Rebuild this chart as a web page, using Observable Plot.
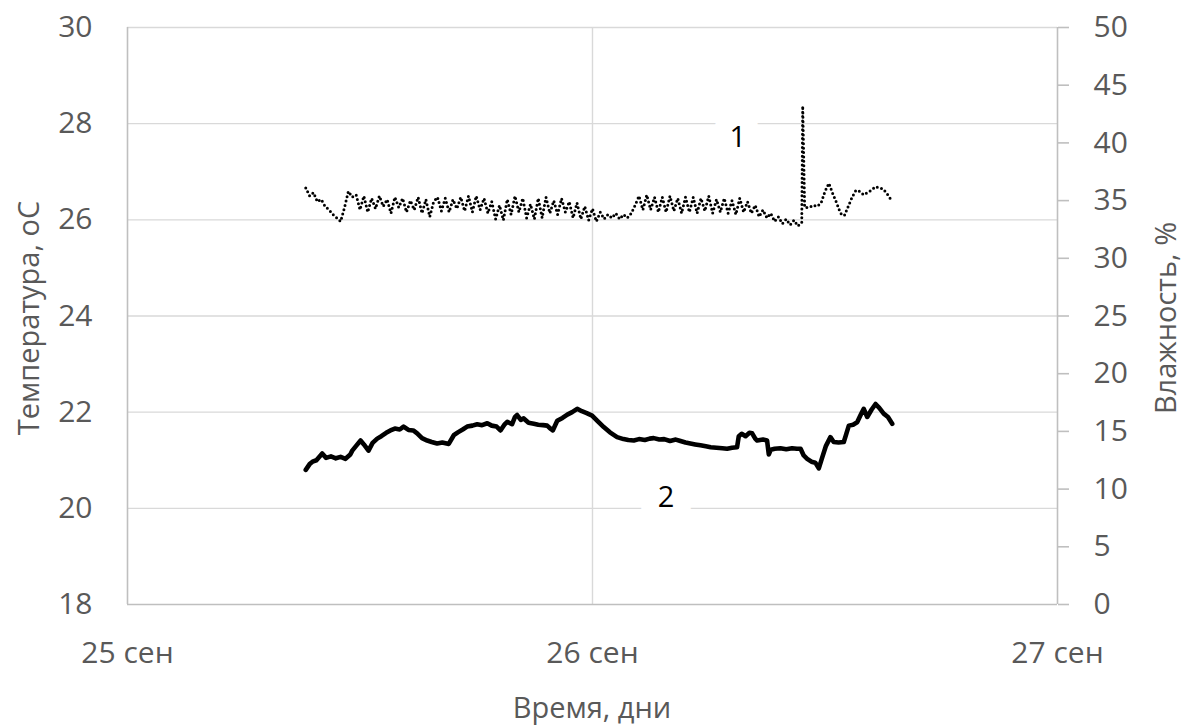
<!DOCTYPE html>
<html>
<head>
<meta charset="utf-8">
<script src="https://cdn.jsdelivr.net/npm/d3@7"></script>
<script src="https://cdn.jsdelivr.net/npm/@observablehq/plot@0.6"></script>
<style>
  html, body { margin: 0; padding: 0; background: #fff; }
  #chart { width: 1191px; height: 726px; }
</style>
</head>
<body>
<div id="chart"></div>
<script>
// ---- Axis ticks ----
const tempTicks = [18, 20, 22, 24, 26, 28, 30];
const humTicks = [0, 5, 10, 15, 20, 25, 30, 35, 40, 45, 50];
const dayTicks = [0, 24, 48];           // hours from 25 Sep 00:00
const dayLabels = ["25 сен", "26 сен", "27 сен"];

// ---- Series 2: temperature, °C (hours from 25 Sep 00:00) ----
const tempHours = [9.2, 9.4, 9.55, 9.75, 10.05, 10.25, 10.5, 10.75, 11.0, 11.25, 11.5, 11.6, 11.8, 12.03, 12.2, 12.44, 12.65, 12.89, 13.1, 13.35, 13.57, 13.8, 14.05, 14.25, 14.5, 14.75, 14.95, 15.2, 15.47, 15.7, 15.98, 16.25, 16.58, 16.84, 17.05, 17.3, 17.53, 17.8, 18.05, 18.3, 18.57, 18.8, 19.05, 19.25, 19.45, 19.6, 19.85, 20.0, 20.11, 20.3, 20.45, 20.7, 20.97, 21.2, 21.45, 21.66, 21.85, 21.95, 22.18, 22.45, 22.7, 22.95, 23.21, 23.45, 23.7, 23.98, 24.25, 24.58, 24.9, 25.27, 25.6, 25.85, 26.13, 26.4, 26.7, 26.95, 27.16, 27.45, 27.7, 28.0, 28.3, 28.54, 28.8, 29.05, 29.3, 29.57, 29.85, 30.1, 30.4, 30.7, 30.95, 31.2, 31.46, 31.55, 31.7, 31.9, 32.1, 32.24, 32.4, 32.5, 32.8, 33.01, 33.1, 33.2, 33.4, 33.7, 34.0, 34.3, 34.55, 34.74, 34.9, 35.08, 35.3, 35.5, 35.68, 35.85, 36.05, 36.28, 36.45, 36.7, 36.97, 37.1, 37.23, 37.45, 37.66, 37.85, 38.0, 38.18, 38.4, 38.61, 38.8, 39.03, 39.25, 39.47];
const tempValues = [20.80, 20.92, 20.97, 21.00, 21.14, 21.05, 21.08, 21.04, 21.07, 21.03, 21.12, 21.20, 21.30, 21.41, 21.33, 21.20, 21.36, 21.45, 21.50, 21.57, 21.62, 21.66, 21.64, 21.70, 21.63, 21.62, 21.56, 21.46, 21.41, 21.38, 21.35, 21.37, 21.34, 21.52, 21.58, 21.64, 21.70, 21.72, 21.75, 21.73, 21.77, 21.72, 21.70, 21.62, 21.74, 21.80, 21.75, 21.90, 21.94, 21.84, 21.87, 21.78, 21.76, 21.74, 21.73, 21.72, 21.65, 21.62, 21.82, 21.88, 21.95, 22.00, 22.07, 22.02, 21.98, 21.93, 21.82, 21.69, 21.58, 21.48, 21.44, 21.42, 21.41, 21.44, 21.42, 21.45, 21.46, 21.43, 21.44, 21.40, 21.43, 21.40, 21.37, 21.35, 21.33, 21.31, 21.29, 21.27, 21.26, 21.25, 21.24, 21.26, 21.27, 21.50, 21.55, 21.50, 21.57, 21.56, 21.45, 21.41, 21.43, 21.41, 21.12, 21.22, 21.24, 21.25, 21.23, 21.25, 21.24, 21.24, 21.10, 21.03, 20.97, 20.95, 20.83, 21.05, 21.30, 21.48, 21.38, 21.37, 21.38, 21.55, 21.72, 21.74, 21.79, 21.95, 22.07, 21.90, 22.05, 22.17, 22.09, 21.97, 21.90, 21.76];

// ---- Series 1: humidity, % (hours from 25 Sep 00:00) ----
const humHours = [9.2, 9.4, 9.6, 9.8, 10.0, 10.2, 10.4, 10.6, 10.8, 11.0, 11.2, 11.4, 11.6, 11.8, 12.0, 12.2, 12.4, 12.6, 12.8, 13.0, 13.2, 13.4, 13.6, 13.8, 14.0, 14.2, 14.4, 14.6, 14.8, 15.0, 15.2, 15.4, 15.6, 15.8, 16.0, 16.2, 16.4, 16.6, 16.8, 17.0, 17.2, 17.4, 17.6, 17.8, 18.0, 18.2, 18.4, 18.6, 18.8, 19.0, 19.2, 19.4, 19.6, 19.8, 20.0, 20.2, 20.4, 20.6, 20.8, 21.0, 21.2, 21.4, 21.6, 21.8, 22.0, 22.2, 22.4, 22.6, 22.8, 23.0, 23.2, 23.4, 23.6, 23.8, 24.0, 24.2, 24.4, 24.6, 24.8, 25.0, 25.2, 25.4, 25.6, 25.8, 26.0, 26.2, 26.4, 26.6, 26.8, 27.0, 27.2, 27.4, 27.6, 27.8, 28.0, 28.2, 28.4, 28.6, 28.8, 29.0, 29.2, 29.4, 29.6, 29.8, 30.0, 30.2, 30.4, 30.6, 30.8, 31.0, 31.2, 31.4, 31.6, 31.8, 32.0, 32.2, 32.4, 32.6, 32.8, 33.0, 33.2, 33.4, 33.6, 33.8, 34.0, 34.2, 34.4, 34.6, 34.8, 34.85, 34.95, 35.2, 35.4, 35.6, 35.8, 36.0, 36.2, 36.4, 36.6, 36.8, 37.0, 37.2, 37.4, 37.6, 37.8, 38.0, 38.2, 38.4, 38.6, 38.8, 39.0, 39.2, 39.4];
const humValues = [36.1, 35.4, 35.7, 34.9, 35.1, 34.5, 34.2, 33.8, 33.5, 33.2, 34.4, 35.8, 35.3, 35.5, 34.2, 35.4, 34.0, 35.2, 34.3, 35.4, 34.5, 35.1, 33.9, 35.3, 34.4, 35.2, 34.0, 35.0, 34.2, 35.3, 33.9, 35.1, 33.6, 34.9, 35.3, 34.1, 35.2, 34.0, 35.1, 34.3, 35.3, 34.1, 35.4, 34.0, 35.4, 34.2, 35.2, 33.9, 34.9, 33.4, 34.6, 33.3, 35.1, 33.8, 35.4, 34.0, 35.2, 33.5, 34.7, 33.4, 35.2, 33.5, 35.3, 33.9, 35.0, 33.8, 35.2, 34.0, 34.9, 33.5, 34.8, 33.4, 34.5, 33.3, 34.3, 33.2, 34.0, 33.4, 33.8, 33.5, 33.9, 33.4, 33.8, 33.5, 33.9, 34.6, 35.4, 34.2, 35.5, 34.2, 35.3, 34.0, 35.3, 34.0, 35.4, 34.1, 35.2, 33.9, 35.3, 34.0, 35.3, 33.9, 35.2, 34.1, 35.4, 33.9, 35.1, 34.0, 35.2, 33.9, 35.0, 33.8, 35.2, 34.0, 34.9, 33.9, 34.6, 33.6, 34.2, 33.5, 33.9, 33.2, 33.6, 33.0, 33.4, 32.9, 33.3, 32.8, 33.1, 43.2, 34.4, 34.4, 34.6, 34.5, 34.8, 35.8, 36.5, 35.6, 34.8, 33.9, 33.7, 34.5, 35.3, 35.9, 35.8, 35.5, 35.7, 35.9, 36.2, 36.1, 36.0, 35.6, 35.1];

// ---- In-chart series labels ----
const seriesLabels = ["1", "2"];
const seriesLabelHours = [31.5, 27.8];
const seriesLabelTemps = [27.71, 20.23];

// ---- Titles ----
const xTitle = "Время, дни";
const yLeftTitle = "Температура, оС";
const yRightTitle = "Влажность, %";

const base = Date.UTC(2021, 8, 25);
const toDate = h => new Date(base + h * 3600000);
const humToTemp = h => 18 + h * (30 - 18) / 50;
const tempToHum = t => (t - 18) * 50 / (30 - 18);

const tempData = tempHours.map((h, i) => ({t: toDate(h), v: tempValues[i]}));
const humData = humHours.map((h, i) => ({t: toDate(h), v: humToTemp(humValues[i])}));
const labelData = seriesLabels.map((s, i) => ({s, t: toDate(seriesLabelHours[i]), v: seriesLabelTemps[i]}));

const gray = "#595959";
const lineGray = "#d9d9d9";
const axisGray = "#bfbfbf";
const FONT = "'Open Sans', sans-serif";

const chart = Plot.plot({
  width: 1191,
  height: 726,
  marginLeft: 127,
  marginRight: 134,
  marginTop: 27,
  marginBottom: 122,
  style: {fontFamily: FONT, background: "#fff", color: gray, overflow: "visible"},
  x: {type: "utc", domain: [toDate(0), toDate(48)], axis: null},
  y: {domain: [18, 30], axis: null},
  marks: [
    Plot.ruleY(tempTicks.filter(t => t > 18), {y: d => d, stroke: lineGray, strokeWidth: 1.4}),
    Plot.ruleX([toDate(24)], {x: d => d, stroke: lineGray, strokeWidth: 1.4}),
    Plot.ruleY([18], {y: d => d, stroke: axisGray, strokeWidth: 1.6}),
    Plot.ruleX([toDate(0), toDate(48)], {x: d => d, stroke: axisGray, strokeWidth: 1.6}),
    Plot.axisY(tempTicks, {anchor: "left", tickSize: 0, tickPadding: 35, fontSize: 30, fill: gray, label: null}),
    Plot.axisY(humTicks.map(humToTemp), {anchor: "right", tickSize: 11, tickPadding: 25, fontSize: 30, fill: gray, stroke: axisGray, strokeWidth: 1.6, label: null, tickFormat: t => String(Math.round(tempToHum(t)))}),
    Plot.axisX(dayTicks.map(toDate), {anchor: "bottom", tickSize: 0, tickPadding: 37, fontSize: 30, fill: gray, label: null, tickFormat: d => dayLabels[dayTicks.indexOf(Math.round((d - base) / 3600000))]}),
    Plot.text(labelData, {x: "t", y: "v", text: "s", fontSize: 29, fill: "#000", stroke: "#fff", strokeWidth: 36, lineAnchor: "middle"}),
    Plot.line(tempData, {x: "t", y: "v", stroke: "#000", strokeWidth: 4.6, strokeLinejoin: "round", strokeLinecap: "round"}),
    Plot.line(humData, {x: "t", y: "v", stroke: "#000", strokeWidth: 3, strokeDasharray: "0,4.4", strokeLinecap: "round", strokeLinejoin: "round"})
  ]
});

// Axis titles (real SVG text)
const svg = d3.select(chart);
const titleStyle = sel => sel
  .attr("fill", gray)
  .attr("font-family", FONT)
  .attr("font-size", 29)
  .attr("text-anchor", "middle")
  .attr("dominant-baseline", "central");
svg.append("text").call(titleStyle).attr("transform", "translate(592,706)").text(xTitle);
svg.append("text").call(titleStyle).attr("transform", "translate(27,318) rotate(-90)").text(yLeftTitle);
svg.append("text").call(titleStyle).attr("transform", "translate(1164,318) rotate(-90)").text(yRightTitle);

document.getElementById("chart").appendChild(chart);
</script>
</body>
</html>
